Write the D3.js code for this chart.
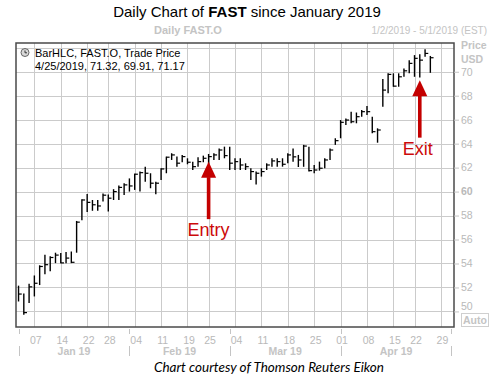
<!DOCTYPE html>
<html><head><meta charset="utf-8">
<script src="https://cdn.jsdelivr.net/npm/d3@7"></script>
<style>body{margin:0;background:#fff}svg{display:block}</style>
</head><body>
<script>
// ---------- DATA ----------
const tradingDays = [
"2019-01-02","2019-01-03","2019-01-04",
"2019-01-07","2019-01-08","2019-01-09","2019-01-10","2019-01-11",
"2019-01-14","2019-01-15","2019-01-16","2019-01-17","2019-01-18",
"2019-01-22","2019-01-23","2019-01-24","2019-01-25",
"2019-01-28","2019-01-29","2019-01-30","2019-01-31","2019-02-01",
"2019-02-04","2019-02-05","2019-02-06","2019-02-07","2019-02-08",
"2019-02-11","2019-02-12","2019-02-13","2019-02-14","2019-02-15",
"2019-02-19","2019-02-20","2019-02-21","2019-02-22",
"2019-02-25","2019-02-26","2019-02-27","2019-02-28","2019-03-01",
"2019-03-04","2019-03-05","2019-03-06","2019-03-07","2019-03-08",
"2019-03-11","2019-03-12","2019-03-13","2019-03-14","2019-03-15",
"2019-03-18","2019-03-19","2019-03-20","2019-03-21","2019-03-22",
"2019-03-25","2019-03-26","2019-03-27","2019-03-28","2019-03-29",
"2019-04-01","2019-04-02","2019-04-03","2019-04-04","2019-04-05",
"2019-04-08","2019-04-09","2019-04-10","2019-04-11","2019-04-12",
"2019-04-15","2019-04-16","2019-04-17","2019-04-18",
"2019-04-22","2019-04-23","2019-04-24","2019-04-25","2019-04-26",
"2019-04-29","2019-04-30","2019-05-01"];

const highs = [
52.15,51.50,52.30,53.00,53.85,54.73,54.60,54.90,54.87,54.95,
55.00,57.55,59.37,59.80,59.30,59.30,59.85,59.75,60.20,60.50,
60.70,61.10,61.50,61.67,62.08,61.53,60.83,61.95,62.92,63.20,
62.92,63.06,62.78,62.50,62.87,63.00,63.14,63.20,63.60,63.75,
63.75,62.78,62.78,62.36,61.95,61.67,61.95,62.36,62.78,62.78,
62.78,63.20,63.60,63.06,63.90,63.75,62.22,62.50,62.78,63.60,
64.45,65.97,66.10,66.67,66.60,66.80,67.14,66.25,65.28,69.40,
69.87,69.87,69.87,70.28,70.97,71.39,71.47,71.87,71.32];
const lows = [
50.83,49.73,50.70,51.25,52.20,53.10,53.35,54.03,54.03,54.03,
54.03,54.90,57.60,58.30,58.40,58.40,59.17,58.33,59.30,59.30,
59.72,60.00,60.14,60.00,60.83,60.28,59.78,60.97,61.53,62.64,
62.08,62.45,62.28,61.80,62.08,62.45,62.30,62.64,62.64,62.78,
61.80,61.80,61.80,61.80,60.97,60.60,61.25,61.80,62.08,62.08,
62.08,62.36,62.50,62.05,62.07,61.67,61.53,61.75,61.95,62.64,
63.90,64.45,65.56,65.70,65.70,66.25,66.39,64.87,64.08,67.08,
68.20,68.75,68.75,69.58,69.87,69.58,69.53,71.25,69.91];
const closes = [
51.45,49.90,52.05,52.35,53.75,53.90,54.50,54.70,54.05,54.45,
54.10,57.45,59.30,59.10,58.90,58.80,59.70,59.45,60.00,60.35,
60.56,60.47,61.45,61.58,61.53,60.70,60.70,61.89,62.87,63.06,
62.37,62.92,62.45,62.08,62.50,62.78,62.92,63.06,63.47,63.00,
62.37,62.50,62.22,62.08,61.67,61.53,61.67,62.22,62.56,62.50,
62.28,63.06,62.90,62.64,63.80,61.75,61.80,61.95,62.64,63.47,
64.25,65.78,65.97,65.83,66.25,66.67,66.67,65.00,65.14,68.47,
69.78,68.80,69.58,70.08,70.70,71.12,70.97,71.53,71.17];

const priceTicks = [50,52,54,56,58,60,62,64,66,68,70];
const gridPrices = [50,52,54,56,58,60,62,64,66,68,70,72];
const weekTicks = ["2019-01-07","2019-01-14","2019-01-22","2019-01-28",
  "2019-02-04","2019-02-11","2019-02-19","2019-02-25",
  "2019-03-04","2019-03-11","2019-03-18","2019-03-25",
  "2019-04-01","2019-04-08","2019-04-15","2019-04-22","2019-04-29"];
const monthStarts = ["2019-01-02","2019-02-01","2019-03-01","2019-04-01","2019-05-01"];
const monthLabels = ["Jan 19","Feb 19","Mar 19","Apr 19"];
const legendLines = ["BarHLC, FAST.O, Trade Price","4/25/2019, 71.32, 69.91, 71.17"];
const annotations = [
  {label:"Entry", date:"2019-02-25", price:62.5},
  {label:"Exit",  date:"2019-04-23", price:69.3}
];
const titleParts = [["Daily Chart of ",400],["FAST",700],[" since January 2019",400]];
const subtitle = "Daily FAST.O";
const dateRange = "1/2/2019 - 5/1/2019 (EST)";
const caption = "Chart courtesy of Thomson Reuters Eikon";

// ---------- LAYOUT ----------
const W = 494, H = 378;
const plot = {l:16, r:454, t:43, b:327};
const gridColor = "#cbcbcb", axisText = "#b9b9b9", red = "#c40000";
const FONT = "'Liberation Sans', Arial, sans-serif";

const svg = d3.select("body").append("svg").attr("width",W).attr("height",H)
  .style("font-family",FONT);

const x = d3.scalePoint().domain(tradingDays).range([plot.l, plot.r]).padding(0.48);
const y = d3.scaleLinear().domain([48.7, 72.4]).range([plot.b, plot.t]);

const bars = tradingDays.slice(0, highs.length).map((d,i)=>({d, h:highs[i], l:lows[i], c:closes[i]}));

// title
const title = svg.append("text").attr("x", W/2).attr("y", 17).attr("text-anchor","middle")
  .style("font-size","15px").attr("fill","#000");
title.selectAll("tspan").data(titleParts).join("tspan").text(d=>d[0]).style("font-weight",d=>d[1]);

svg.append("text").attr("x",188).attr("y",34).attr("text-anchor","middle")
  .style("font-size","11px").style("font-weight",700).attr("fill","#c4c4c4").text(subtitle);
svg.append("text").attr("x",487).attr("y",34).attr("text-anchor","end")
  .style("font-size","10px").attr("fill","#c4c4c4").text(dateRange);

// grid
const g = svg.append("g");
g.selectAll("line.hg").data(gridPrices).join("line").attr("class","hg")
  .attr("x1",plot.l).attr("x2",plot.r)
  .attr("y1",d=>Math.round(y(d))+0.5).attr("y2",d=>Math.round(y(d))+0.5)
  .attr("stroke",gridColor).attr("stroke-width",1);
g.selectAll("line.vg").data(weekTicks).join("line").attr("class","vg")
  .attr("x1",d=>Math.round(x(d))+0.5).attr("x2",d=>Math.round(x(d))+0.5)
  .attr("y1",plot.t).attr("y2",plot.b)
  .attr("stroke",gridColor).attr("stroke-width",1);

// bars (HLC)
const bg = svg.append("g").attr("stroke","#000");
bg.selectAll("line.hl").data(bars).join("line").attr("class","hl")
  .attr("x1",d=>x(d.d)).attr("x2",d=>x(d.d))
  .attr("y1",d=>y(d.h)).attr("y2",d=>y(d.l)).attr("stroke-width",1.4);
bg.selectAll("line.cl").data(bars).join("line").attr("class","cl")
  .attr("x1",d=>x(d.d)).attr("x2",d=>x(d.d)+3.2)
  .attr("y1",d=>y(d.c)).attr("y2",d=>y(d.c)).attr("stroke-width",1.2);

// frame
svg.append("rect").attr("x",plot.l).attr("y",plot.t)
  .attr("width",plot.r-plot.l).attr("height",plot.b-plot.t)
  .attr("fill","none").attr("stroke","#4a4a4a").attr("stroke-width",1.5);

// right axis
const yAxis = d3.axisRight(y).tickValues(priceTicks).tickSize(5).tickPadding(2).tickFormat(d3.format("d"));
const ya = svg.append("g").attr("transform",`translate(${plot.r},0)`).call(yAxis);
ya.select(".domain").remove();
ya.selectAll(".tick line").attr("stroke","#c4c4c4");
ya.selectAll(".tick text").attr("fill",axisText).style("font-size","10.5px").style("font-family",FONT)
  .style("font-weight",d=>d===60?700:400)
  .attr("dy",d=>d===50?"-0.2em":"0.32em");
svg.append("text").attr("x",461).attr("y",49).style("font-size","10.5px").style("font-weight",700)
  .attr("fill","#c4c4c4").text("Price");
svg.append("text").attr("x",461).attr("y",63).style("font-size","10.5px").style("font-weight",700)
  .attr("fill","#c4c4c4").text("USD");
svg.append("rect").attr("x",461.5).attr("y",313.5).attr("width",27).attr("height",13)
  .attr("fill","none").attr("stroke","#cfcfcf");
svg.append("text").attr("x",475).attr("y",324).attr("text-anchor","middle")
  .style("font-size","10.5px").style("font-weight",700).attr("fill","#c4c4c4").text("Auto");

// bottom axis: week labels
const xAxis = d3.axisBottom(x).tickValues(weekTicks).tickSize(0).tickPadding(10)
  .tickFormat(d=>d.slice(8));
const xa = svg.append("g").attr("transform",`translate(0,${plot.b})`).call(xAxis);
xa.select(".domain").remove();
xa.selectAll(".tick text").attr("fill",axisText).style("font-size","10.5px").style("font-family",FONT)
  .attr("dx","1");

// month separators & labels
svg.selectAll("line.ms1").data(monthStarts).join("line").attr("class","ms1")
  .attr("x1",d=>Math.round(x(d))+0.5).attr("x2",d=>Math.round(x(d))+0.5)
  .attr("y1",329).attr("y2",334).attr("stroke","#c4c4c4");
svg.selectAll("line.ms2").data(monthStarts).join("line").attr("class","ms2")
  .attr("x1",d=>Math.round(x(d))+0.5).attr("x2",d=>Math.round(x(d))+0.5)
  .attr("y1",346).attr("y2",356).attr("stroke","#c4c4c4");
svg.selectAll("text.ml").data(monthLabels).join("text").attr("class","ml")
  .attr("x",(d,i)=>(x(monthStarts[i])+x(monthStarts[i+1]))/2).attr("y",355)
  .attr("text-anchor","middle").style("font-size","10.5px").style("font-weight",700)
  .attr("fill","#c4c4c4").text(d=>d);

// legend
const lg = svg.append("g");
lg.append("circle").attr("cx",25).attr("cy",52.5).attr("r",4).attr("fill","#d8d8d8").attr("stroke","#666").attr("stroke-width",1);
lg.append("path").attr("d","M25,50.5 V52.8 H27").attr("fill","none").attr("stroke","#333").attr("stroke-width",1);
lg.selectAll("text").data(legendLines).join("text")
  .attr("x",35).attr("y",(d,i)=>56.5+i*13).style("font-size","11px").attr("fill","#000").text(d=>d);

// annotations
const an = svg.append("g");
annotations.forEach(a=>{
  const ax = x(a.date), ay = y(a.price);
  const headH = 16, headW = 7.5, shaft = 42, sw = 3.6;
  an.append("path").attr("d",`M${ax},${ay} L${ax+headW},${ay+headH} L${ax-headW},${ay+headH} Z`).attr("fill",red);
  an.append("rect").attr("x",ax-sw/2).attr("y",ay+headH-0.5).attr("width",sw).attr("height",shaft).attr("fill",red);
  an.append("text").attr("x",ax - (a.label==="Exit"?2:0)).attr("y",ay+headH+shaft+16.5)
    .attr("text-anchor","middle").style("font-size","18px").attr("fill","#cc0a0a").text(a.label);
});

// caption
svg.append("text").attr("x",269).attr("y",372).attr("text-anchor","middle")
  .style("font-family","Lato, sans-serif").style("font-style","italic").style("font-size","13.5px")
  .attr("fill","#000").text(caption);
</script>
</body></html>
